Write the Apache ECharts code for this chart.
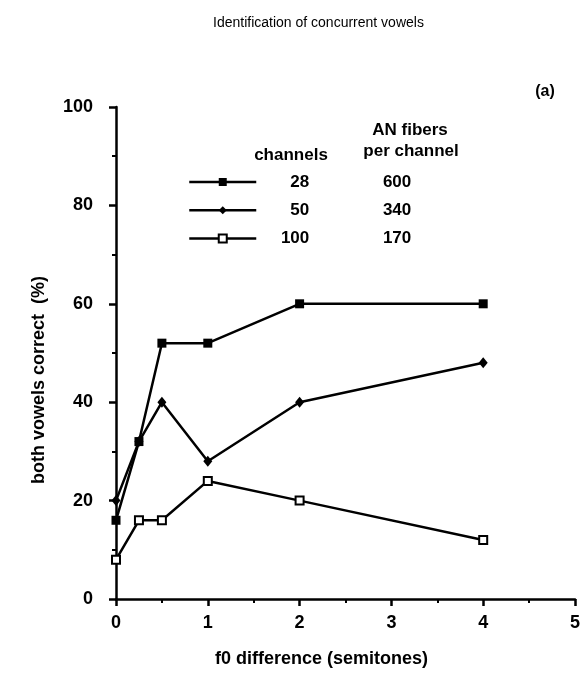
<!DOCTYPE html>
<html>
<head>
<meta charset="utf-8">
<script src="https://cdn.jsdelivr.net/npm/echarts@6/dist/echarts.min.js"></script>
<style>html,body{margin:0;padding:0;background:#fff;}#c{width:583px;height:675px;}</style>
</head>
<body>
<div id="c"></div>
<script>
const xValues = [0, 0.25, 0.5, 1, 2, 4];
const channels = ['28', '50', '100'];
const fibersPerChannel = ['600', '340', '170'];
const ch28 = [16, 32, 52, 52, 60, 60];
const ch50 = [20, 32, 40, 28, 40, 48];
const ch100 = [8, 16, 16, 24, 20, 12];
const xTicks = [0, 1, 2, 3, 4, 5];
const yTicks = [0, 20, 40, 60, 80, 100];

const FONT = '"Liberation Sans", Arial, Helvetica, sans-serif';
const pairs = v => xValues.map((x, i) => [x, v[i]]);

const chart = echarts.init(document.getElementById('c'), null, {renderer: 'canvas'});
const baseSeries = {
  type: 'line', clip: false, z: 3,
  lineStyle: {color: '#000', width: 2.5},
  emphasis: {disabled: true}
};
chart.setOption({
  animation: false,
  backgroundColor: '#fff',
  title: {
    text: 'Identification of concurrent vowels',
    left: 208, top: 11,
    textStyle: {fontFamily: FONT, fontSize: 14, fontWeight: 'normal', color: '#000'}
  },
  grid: {left: 116, right: 6, top: 107, bottom: 76, containLabel: false},
  xAxis: {
    type: 'value', min: xTicks[0], max: xTicks[xTicks.length - 1], interval: 1,
    name: 'f0 difference (semitones)', nameLocation: 'middle', nameGap: 51,
    nameTextStyle: {fontFamily: FONT, fontSize: 18, fontWeight: 'bold', color: '#000', padding: [0, 48, 0, 0]},
    axisLine: {lineStyle: {color: '#000', width: 2.5}},
    axisTick: {length: 7, lineStyle: {color: '#000', width: 2.5}},
    minorTick: {show: true, splitNumber: 2, length: 4, lineStyle: {color: '#000', width: 2}},
    splitLine: {show: false},
    axisLabel: {margin: 15, fontFamily: FONT, fontSize: 18, fontWeight: 'bold', color: '#000'}
  },
  yAxis: {
    type: 'value', min: yTicks[0], max: yTicks[yTicks.length - 1], interval: 20,
    name: 'both vowels correct  (%)', nameLocation: 'middle', nameGap: 68,
    nameTextStyle: {fontFamily: FONT, fontSize: 18, fontWeight: 'bold', color: '#000', padding: [0, 54, 0, 0]},
    axisLine: {show: true, lineStyle: {color: '#000', width: 2.5}},
    axisTick: {show: true, length: 7, lineStyle: {color: '#000', width: 2.5}},
    minorTick: {show: true, splitNumber: 2, length: 4, lineStyle: {color: '#000', width: 2}},
    splitLine: {show: false},
    axisLabel: {margin: 23, fontFamily: FONT, fontSize: 18, fontWeight: 'bold', color: '#000'}
  },
  legend: {
    orient: 'vertical', left: 188, top: 173.5, padding: 0, itemGap: 11.3,
    itemWidth: 67, itemHeight: 10,
    lineStyle: {width: 2.5, color: '#000'},
    data: channels,
    formatter: name => `{a|${name}}{b|${fibersPerChannel[channels.indexOf(name)]}}`,
    textStyle: {
      fontFamily: FONT, fontSize: 17, fontWeight: 'bold', color: '#000',
      rich: {
        a: {width: 48, align: 'right', fontFamily: FONT, fontSize: 17, fontWeight: 'bold', color: '#000'},
        b: {width: 102, align: 'right', fontFamily: FONT, fontSize: 17, fontWeight: 'bold', color: '#000'}
      }
    },
    selectedMode: false
  },
  graphic: [
    {type: 'text', x: 291, y: 155, style: {text: 'channels', fill: '#000', font: 'bold 17px ' + FONT, textAlign: 'center', textVerticalAlign: 'middle'}},
    {type: 'text', x: 410, y: 130, style: {text: 'AN fibers', fill: '#000', font: 'bold 17px ' + FONT, textAlign: 'center', textVerticalAlign: 'middle'}},
    {type: 'text', x: 411, y: 151, style: {text: 'per channel', fill: '#000', font: 'bold 17px ' + FONT, textAlign: 'center', textVerticalAlign: 'middle'}},
    {type: 'text', x: 545, y: 92, style: {text: '(a)', fill: '#000', font: 'bold 16px ' + FONT, textAlign: 'center', textVerticalAlign: 'middle'}}
  ],
  series: [
    Object.assign({}, baseSeries, {
      name: channels[0], data: pairs(ch28), symbol: 'rect', symbolSize: 9,
      itemStyle: {color: '#000', borderColor: '#000', borderWidth: 0}
    }),
    Object.assign({}, baseSeries, {
      name: channels[1], data: pairs(ch50), symbol: 'diamond', symbolSize: [9, 11],
      itemStyle: {color: '#000', borderColor: '#000', borderWidth: 0}
    }),
    Object.assign({}, baseSeries, {
      name: channels[2], data: pairs(ch100), symbol: 'rect', symbolSize: 8,
      itemStyle: {color: '#fff', borderColor: '#000', borderWidth: 2}
    })
  ]
});
</script>
</body>
</html>
